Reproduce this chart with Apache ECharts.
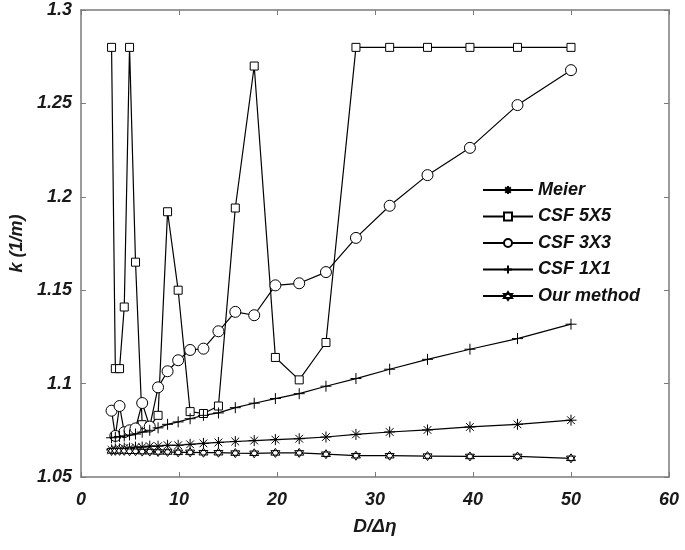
<!DOCTYPE html>
<html><head><meta charset="utf-8">
<script src="https://cdn.jsdelivr.net/npm/echarts@6/dist/echarts.min.js"></script>
<style>html,body{margin:0;padding:0;background:#fff}#c{width:685px;height:550px}</style>
</head><body><div id="c"></div>
<script>
const xVals = [3.125, 3.51, 3.94, 4.42, 4.96, 5.57, 6.25, 7.02, 7.87, 8.84, 9.92, 11.14, 12.5, 14.03, 15.75, 17.68, 19.84, 22.27, 25, 28.06, 31.5, 35.36, 39.69, 44.54, 50];
const meier = [1.0645,1.065,1.065,1.0655,1.0655,1.066,1.066,1.0665,1.0665,1.067,1.067,1.0675,1.068,1.0685,1.069,1.0695,1.070,1.0705,1.0714,1.0728,1.0741,1.0752,1.0768,1.0782,1.0804];
const csf5 = [1.28,1.108,1.108,1.141,1.28,1.165,1.078,1.077,1.083,1.192,1.15,1.085,1.084,1.088,1.194,1.27,1.114,1.102,1.122,1.28,1.28,1.28,1.28,1.28,1.28];
const csf3 = [1.0855,1.072,1.088,1.074,1.075,1.076,1.0896,1.077,1.098,1.1066,1.1125,1.118,1.1187,1.128,1.1384,1.1366,1.1526,1.1537,1.1597,1.178,1.1952,1.2116,1.2262,1.2491,1.2678];
const csf1 = [1.071,1.0713,1.0717,1.072,1.0725,1.073,1.074,1.075,1.0763,1.0782,1.0795,1.0812,1.083,1.0843,1.0871,1.0895,1.092,1.0946,1.0986,1.1027,1.1077,1.113,1.1184,1.1241,1.1318];
const ours = [1.064,1.064,1.064,1.064,1.0638,1.0638,1.0636,1.0636,1.0634,1.0634,1.0632,1.0632,1.063,1.063,1.0628,1.0627,1.0629,1.0629,1.0622,1.0614,1.0614,1.0612,1.061,1.061,1.060];
const seriesNames = ['Meier','CSF 5X5','CSF 3X3','CSF 1X1','Our method'];
const xTicks = {min:0, max:60, interval:10};
const yTicks = {min:1.05, max:1.3, interval:0.05};

const FONT = '"Liberation Sans", Arial, sans-serif';
const axisGray = '#7a7a7a';
const symStar = 'path://M5,0L5,10M0,5L10,5M1.5,1.5L8.5,8.5M8.5,1.5L1.5,8.5';
const symPlus = 'path://M5,0L5,10M0,5L10,5';
const symHex = 'path://M5,0L9.33,7.5L0.67,7.5ZM5,10L0.67,2.5L9.33,2.5Z';

function mk(name, vals, symbol, size) {
  return {
    name: name, type: 'line',
    data: xVals.map((x, i) => [x, vals[i]]),
    symbol: symbol, symbolSize: size, showAllSymbol: true,
    lineStyle: {color: '#000', width: 1.2},
    itemStyle: {color: '#fff', borderColor: '#000', borderWidth: 1},
    emphasis: {disabled: true},
    animation: false
  };
}

const labelStyle = {fontFamily: FONT, fontWeight: 'bold', fontStyle: 'italic', fontSize: 18, color: '#1a1a1a'};

const chart = echarts.init(document.getElementById('c'), null, {renderer: 'canvas'});
chart.setOption({
  backgroundColor: '#fff',
  animation: false,
  grid: {left: 79, right: 16, top: 10, bottom: 73, containLabel: false},
  legend: {
    orient: 'vertical', left: 477, top: 175,
    itemWidth: 50, itemHeight: 10, itemGap: 6.5,
    data: seriesNames,
    textStyle: {fontFamily: FONT, fontWeight: 'bold', fontStyle: 'italic', fontSize: 18, color: '#111', lineHeight: 20},
    selectedMode: false
  },
  xAxis: [{
    type: 'value', min: xTicks.min, max: xTicks.max, interval: xTicks.interval,
    name: 'D/\u0394\u03b7', nameLocation: 'middle', nameGap: 40,
    nameTextStyle: {fontFamily: FONT, fontWeight: 'bold', fontStyle: 'italic', fontSize: 19, color: '#1a1a1a'},
    axisLine: {show: true, onZero: false, lineStyle: {color: axisGray, width: 1.5}},
    axisTick: {show: true, inside: true, length: 5, lineStyle: {color: axisGray}},
    axisLabel: Object.assign({margin: 14}, labelStyle),
    splitLine: {show: false}
  }, {
    type: 'value', position: 'top', min: xTicks.min, max: xTicks.max, interval: xTicks.interval,
    axisLine: {show: true, onZero: false, lineStyle: {color: axisGray, width: 1.5}},
    axisTick: {show: true, inside: true, length: 5, lineStyle: {color: axisGray}},
    axisLabel: {show: false}, splitLine: {show: false}
  }],
  yAxis: [{
    type: 'value', min: yTicks.min, max: yTicks.max, interval: yTicks.interval,
    name: 'k (1/m)', nameLocation: 'middle', nameGap: 49,
    nameTextStyle: {fontFamily: FONT, fontWeight: 'bold', fontStyle: 'italic', fontSize: 18, color: '#1a1a1a'},
    axisLine: {show: true, onZero: false, lineStyle: {color: axisGray, width: 1.5}},
    axisTick: {show: true, inside: true, length: 5, lineStyle: {color: axisGray}},
    axisLabel: Object.assign({margin: 9, formatter: v => String(+v.toFixed(2))}, labelStyle),
    splitLine: {show: false}
  }, {
    type: 'value', position: 'right', min: yTicks.min, max: yTicks.max, interval: yTicks.interval,
    axisLine: {show: true, onZero: false, lineStyle: {color: axisGray, width: 1.5}},
    axisTick: {show: true, inside: true, length: 5, lineStyle: {color: axisGray}},
    axisLabel: {show: false}, splitLine: {show: false}
  }],
  series: [
    mk(seriesNames[0], meier, symStar, 11),
    mk(seriesNames[1], csf5, 'rect', 8),
    mk(seriesNames[2], csf3, 'circle', 11),
    mk(seriesNames[3], csf1, symPlus, 11),
    mk(seriesNames[4], ours, symHex, 9)
  ]
});
</script></body></html>
